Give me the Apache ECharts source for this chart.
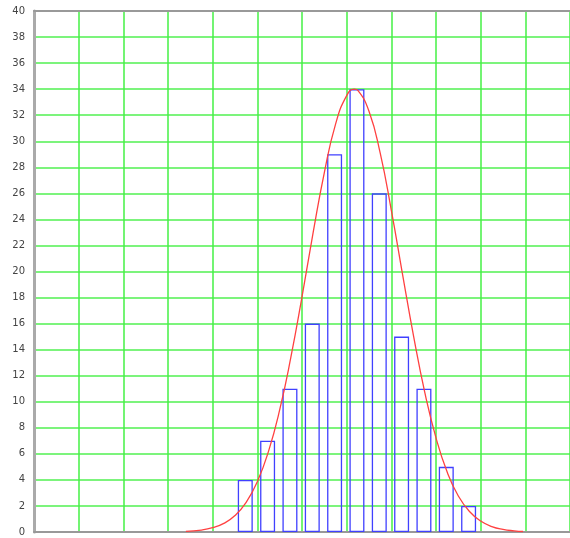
<!DOCTYPE html>
<html>
<head>
<meta charset="utf-8">
<script src="https://cdn.jsdelivr.net/npm/echarts@6/dist/echarts.min.js"></script>
<style>html,body{margin:0;padding:0;background:#fff}#c{width:570px;height:538px}</style>
</head>
<body>
<div id="c"></div>
<script>
// histogram bins (centre positions in grid units) and counts
var binCenters = [4.73, 5.23, 5.73, 6.23, 6.73, 7.23, 7.73, 8.23, 8.73, 9.23, 9.73];
var binCounts  = [4, 7, 11, 16, 29, 34, 26, 15, 11, 5, 2];
// fitted curve
var curveX = [3.4, 3.75, 4.0, 4.25, 4.5, 4.75, 5.0, 5.25, 5.5, 5.75, 6.0, 6.25, 6.5, 6.75, 7.0, 7.17, 7.25, 7.5, 7.75, 8.0, 8.25, 8.5, 8.75, 9.0, 9.25, 9.5, 9.75, 10.0, 10.25, 10.5, 10.75, 10.95];
var curveY = [0.05, 0.15, 0.33, 0.66, 1.26, 2.27, 3.86, 6.19, 9.37, 13.4, 18.05, 23.0, 27.6, 31.3, 33.5, 34.0, 33.9, 32.3, 29.1, 24.7, 19.8, 15.0, 10.7, 7.23, 4.6, 2.76, 1.57, 0.84, 0.42, 0.2, 0.09, 0.04];
var yTicks = [0, 2, 4, 6, 8, 10, 12, 14, 16, 18, 20, 22, 24, 26, 28, 30, 32, 34, 36, 38, 40];

var chart = echarts.init(document.getElementById('c'), null, {renderer: 'canvas'});
var barData = binCenters.map(function (x, i) { return [x, binCounts[i]]; });
var lineData = curveX.map(function (x, i) { return [x, curveY[i]]; });

chart.setOption({
  animation: false,
  backgroundColor: '#fff',
  grid: {left: 34, right: -3, top: 11, bottom: 6},
  xAxis: [{
    type: 'value', min: 0, max: 12, interval: 1, position: 'bottom',
    axisLine: {show: true, onZero: false, lineStyle: {color: '#999', width: 2}},
    axisTick: {show: false}, axisLabel: {show: false},
    splitLine: {show: true, lineStyle: {color: '#44f044', width: 1.5}}
  }, {
    type: 'value', min: 0, max: 12, interval: 1, position: 'top',
    axisLine: {show: true, onZero: false, lineStyle: {color: '#999', width: 2}},
    axisTick: {show: false}, axisLabel: {show: false}, splitLine: {show: false}
  }],
  yAxis: {
    type: 'value', min: 0, max: 40, interval: 2,
    axisLine: {show: true, onZero: false, lineStyle: {color: '#aaa', width: 3}},
    axisTick: {show: false},
    axisLabel: {
      margin: 9, fontSize: 10, color: '#444', fontFamily: 'DejaVu Sans',
      formatter: function (v) { return yTicks.indexOf(v) >= 0 ? String(v) : ''; }
    },
    splitLine: {show: true, lineStyle: {color: '#50f050', width: 1.5}}
  },
  series: [{
    type: 'bar',
    data: barData,
    barWidth: 15,
    itemStyle: {color: 'rgba(0,0,0,0)', borderColor: '#4040ff', borderWidth: 1.3},
    z: 3
  }, {
    type: 'line',
    data: lineData,
    smooth: true,
    showSymbol: false,
    lineStyle: {color: '#ff4040', width: 1.3},
    z: 4
  }]
});
</script>
</body>
</html>
